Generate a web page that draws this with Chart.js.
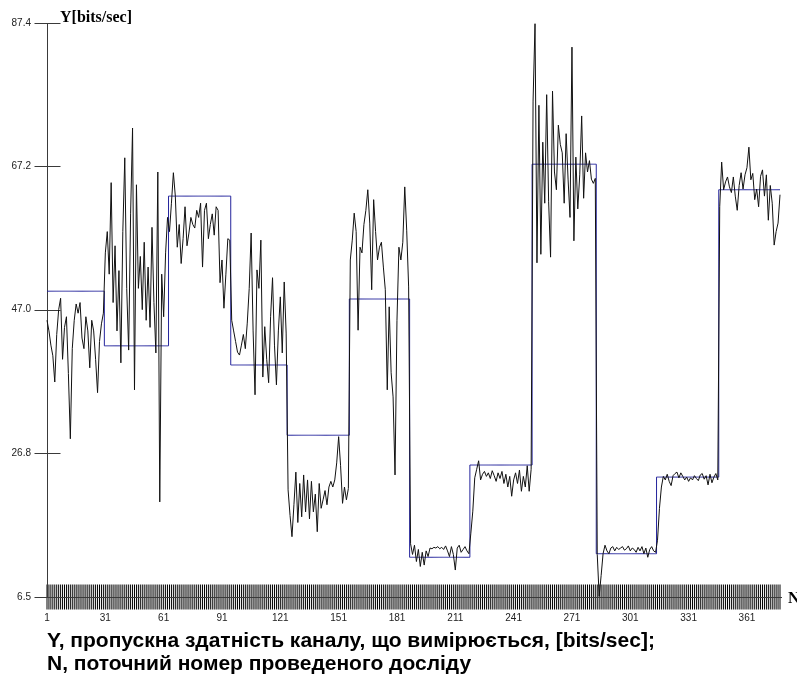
<!DOCTYPE html>
<html>
<head>
<meta charset="utf-8">
<script src="https://cdn.jsdelivr.net/npm/chart.js@4/dist/chart.umd.min.js"></script>
<style>
  html, body { margin: 0; padding: 0; background: #fff; }
  #wrap { position: relative; width: 797px; height: 676px; overflow: hidden; }
  #plot { position: absolute; left: 0; top: 0; }
  .ttl { position: absolute; font-family: "Liberation Serif", "DejaVu Serif", serif; font-weight: bold; font-size: 16px; color: #000; white-space: nowrap; line-height: 16px; }
  .cap { position: absolute; left: 47px; font-family: "Liberation Sans", Arial, sans-serif; font-weight: bold; font-size: 21px; color: #000; white-space: nowrap; line-height: 23px; }
</style>
</head>
<body>
<div id="wrap">
  <canvas id="plot" width="797" height="676"></canvas>
  <div class="ttl" style="left:60px; top:9px;">Y[bits/sec]</div>
  <div class="ttl" style="left:788px; top:590px;">N</div>
  <div class="cap" style="top:628px;">Y, пропускна здатність каналу, що вимірюється, [bits/sec];</div>
  <div class="cap" style="top:651px;">N, поточний номер проведеного досліду</div>
</div>
<script>
// Measured channel throughput, one value per experiment (blocks of constant nominal rate)
const throughput = [
  // block 1
  45.5, 44.0, 42.0, 40.5, 36.8, 43.5, 47.0, 48.6, 40.0, 44.5,
  46.0, 38.0, 28.8, 41.5, 45.5, 47.8, 46.5, 48.0, 43.0, 41.5,
  46.0, 44.0, 38.8, 45.5, 44.0, 40.0, 35.3, 42.5, 45.0, 46.5,
  // block 2
  55.0, 58.0, 52.0, 64.9, 48.0, 56.0, 44.0, 52.5, 39.5, 58.0,
  68.4, 50.0, 41.3, 60.5, 72.6, 35.7, 64.6, 50.0, 54.5, 47.0,
  56.5, 45.5, 53.0, 44.5, 58.6, 48.0, 40.9, 66.4, 19.9, 52.0,
  46.0, 55.0, 60.0,
  // block 3
  58.0, 62.0, 66.3, 63.0, 55.8, 59.0, 53.5, 57.0, 61.5, 56.0,
  57.8, 60.0, 59.0, 58.5, 61.0, 60.0, 62.0, 53.0, 61.0, 62.0,
  57.0, 59.0, 60.5, 57.5, 61.5, 61.0, 50.8, 54.0, 47.2, 52.0,
  57.0, 56.8,
  // block 4
  45.5, 44.0, 42.5, 41.0, 40.6, 42.0, 43.5, 41.5, 45.1, 50.0,
  57.8, 44.0, 35.0, 52.6, 50.0, 56.8, 37.5, 44.6, 40.0, 36.7,
  46.0, 51.5, 42.0, 36.4, 44.0, 48.8, 40.9, 50.9, 43.7,
  // block 5
  21.6, 18.0, 15.0, 19.5, 24.1, 17.0, 22.5, 17.8, 23.7, 18.5,
  23.0, 17.5, 22.8, 18.5, 21.0, 15.7, 22.5, 19.0, 20.2, 21.5,
  19.5, 22.0, 22.8, 22.0, 23.0, 25.4, 29.1, 25.0, 19.7, 22.0,
  20.2, 21.8,
  // block 6
  54.0, 56.8, 60.6, 58.0, 44.1, 55.8, 55.0, 59.0, 61.0, 63.9,
  59.2, 49.8, 62.5, 58.0, 54.0, 55.8, 56.5, 53.0, 49.8, 35.7,
  47.4, 38.1, 34.7, 23.7, 45.5, 55.8, 54.0, 56.5, 64.3, 58.2,
  50.2,
  // block 7
  14.0, 12.5, 13.8, 11.5, 13.2, 10.8, 12.8, 11.0, 13.0, 12.2,
  13.4, 13.3, 13.5, 13.4, 13.6, 13.3, 13.5, 13.2, 13.7, 13.0,
  12.2, 13.6, 12.5, 10.3, 13.4, 13.8, 12.8, 13.2, 13.6, 13.0,
  12.6,
  // block 8
  15.5, 18.6, 23.3, 24.5, 25.7, 23.0, 23.8, 24.2, 23.5, 24.0,
  23.2, 24.3, 23.6, 22.8, 24.0, 23.2, 24.2, 22.5, 23.8, 22.0,
  23.5, 20.7, 23.0, 24.0, 22.5, 24.4, 21.4, 23.5, 22.0, 25.0,
  21.4, 24.5,
  // block 9
  76.4, 87.3, 53.6, 75.8, 54.8, 70.6, 62.0, 77.3, 62.2, 54.4,
  77.8, 66.4, 63.9, 73.0, 70.3, 69.1, 62.0, 71.8, 65.4, 60.0,
  84.0, 56.7, 68.5, 61.2, 66.0, 74.3, 62.7, 69.1, 66.4, 68.0,
  65.4, 64.8, 65.5,
  // block 10
  12.5, 6.6, 9.5, 12.6, 13.8, 13.0, 12.6, 13.4, 13.6, 13.0,
  13.5, 13.2, 13.4, 13.6, 13.1, 13.3, 13.7, 13.0, 13.4, 13.2,
  12.8, 13.5, 13.0, 13.6, 12.6, 13.4, 12.1, 13.2, 13.6, 13.0,
  12.8,
  // block 11
  14.5, 19.0, 22.0, 23.5, 23.0, 23.8, 22.8, 22.2, 23.6, 23.9,
  24.1, 23.3, 24.0, 23.5, 23.0, 23.4, 22.8, 23.3, 23.0, 23.6,
  23.2, 22.9, 23.7, 23.9, 23.1, 23.6, 22.3, 23.8, 22.6, 23.4,
  23.9, 23.0,
  // block 12
  61.5, 67.8, 63.9, 65.0, 65.7, 64.3, 63.5, 65.7, 63.0, 61.0,
  64.5, 66.3, 64.0, 66.0, 67.0, 69.9, 65.3, 66.2, 62.5, 64.0,
  61.5, 65.8, 66.7, 63.0, 66.0, 59.6, 64.5, 62.0, 56.1, 58.0,
  59.2, 63.2
];

// Nominal rate of each block and how many experiments it spans
const stepLevels   = [49.6, 41.9, 63.0, 39.2, 29.3, 48.5, 12.1, 25.1, 67.5, 12.6, 23.4, 63.9];
const blockLengths = [30, 33, 32, 29, 32, 31, 31, 32, 33, 31, 32, 32];

// Axis ticks
const xTickValues = [1, 31, 61, 91, 121, 151, 181, 211, 241, 271, 301, 331, 361];
const yTickValues = [6.5, 26.8, 47.0, 67.2, 87.4];

const yMin = yTickValues[0];
const yMax = yTickValues[yTickValues.length - 1];
const nCount = throughput.length;

const measuredPts = throughput.map((v, i) => ({ x: i + 1, y: v }));
const nominalPts = [];
stepLevels.forEach((lvl, b) => {
  for (let k = 0; k < blockLengths[b]; k++) nominalPts.push({ x: nominalPts.length + 1, y: lvl });
});

// Axis lines with tick marks crossing them, one mark per experiment on N
const crossAxes = {
  id: 'crossAxes',
  beforeDatasetsDraw(chart) {
    const { ctx, scales: { x, y } } = chart;
    const x0 = Math.round(x.getPixelForValue(1)) + 0.5;
    const y0 = Math.round(y.getPixelForValue(yMin)) + 0.5;
    const yTop = Math.round(y.getPixelForValue(yMax)) + 0.5;
    const xEnd = x.getPixelForValue(nCount) + 2;
    ctx.save();
    ctx.lineWidth = 1;
    ctx.strokeStyle = '#000';
    for (let n = 1; n <= nCount; n++) {
      const px = x.getPixelForValue(n);
      ctx.beginPath();
      ctx.moveTo(px, y0 - 13);
      ctx.lineTo(px, y0 + 12);
      ctx.stroke();
    }
    ctx.strokeStyle = '#3a3a3a';
    ctx.beginPath();
    ctx.moveTo(x0, yTop);
    ctx.lineTo(x0, y0);
    ctx.moveTo(x0, y0);
    ctx.lineTo(xEnd, y0);
    ctx.stroke();
    yTickValues.forEach(v => {
      const py = Math.round(y.getPixelForValue(v)) + 0.5;
      ctx.beginPath();
      ctx.moveTo(x0 - 13, py);
      ctx.lineTo(x0 + 13, py);
      ctx.stroke();
    });
    ctx.restore();
  }
};

const tickFont = { family: '"Liberation Sans", Arial, sans-serif', size: 10 };

new Chart(document.getElementById('plot'), {
  type: 'line',
  data: {
    datasets: [
      {
        data: measuredPts,
        borderColor: '#111',
        borderWidth: 1,
        pointRadius: 0,
        tension: 0,
        clip: false
      },
      {
        data: nominalPts,
        borderColor: '#24249c',
        borderWidth: 1,
        pointRadius: 0,
        stepped: 'middle',
        clip: false
      }
    ]
  },
  options: {
    responsive: false,
    animation: false,
    devicePixelRatio: 1,
    layout: { padding: { top: 23, right: 17, left: 0, bottom: 0 } },
    plugins: { legend: { display: false }, tooltip: { enabled: false } },
    scales: {
      x: {
        type: 'linear',
        min: 1,
        max: nCount,
        grid: { display: false, drawTicks: false },
        border: { display: false },
        afterBuildTicks: s => { s.ticks = xTickValues.map(v => ({ value: v })); },
        afterFit: s => { s.height = 79; },
        ticks: { font: tickFont, color: '#222', padding: 15, maxRotation: 0, autoSkip: false }
      },
      y: {
        min: yMin,
        max: yMax,
        grid: { display: false, drawTicks: false },
        border: { display: false },
        afterBuildTicks: s => { s.ticks = yTickValues.map(v => ({ value: v })); },
        afterFit: s => { s.width = 47; },
        ticks: { font: tickFont, color: '#222', padding: 16, callback: v => Number(v).toFixed(1) }
      }
    }
  },
  plugins: [crossAxes]
});
</script>
</body>
</html>
